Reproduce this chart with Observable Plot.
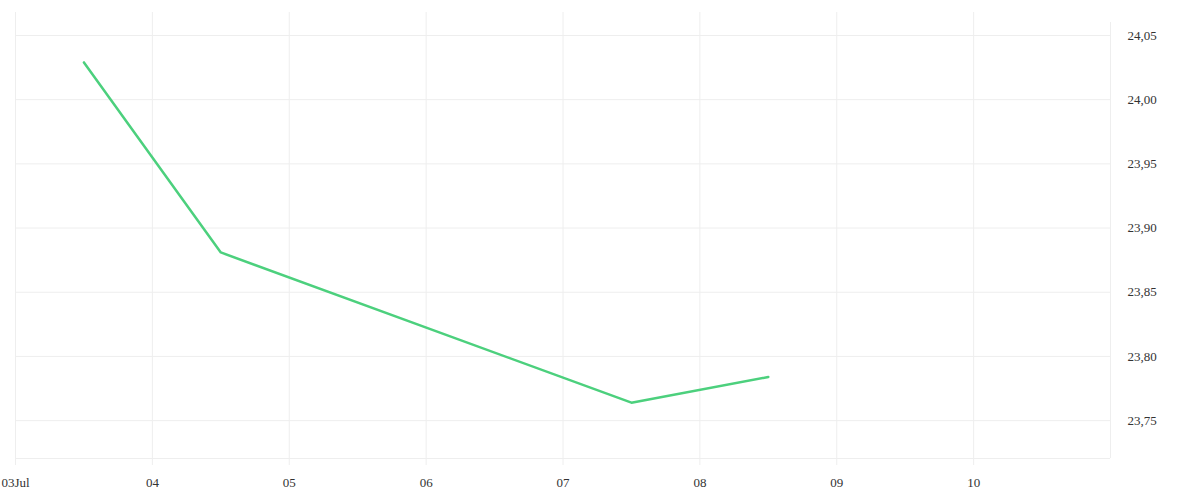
<!DOCTYPE html>
<html>
<head>
<meta charset="utf-8">
<script src="https://cdn.jsdelivr.net/npm/d3@7"></script>
<script src="https://cdn.jsdelivr.net/npm/@observablehq/plot@0.6"></script>
<style>
  html, body { margin: 0; padding: 0; background: #fff; }
  svg { display: block; }
</style>
</head>
<body>
<div id="chart"></div>
<script>
const dates = ["2024-07-03T12:00Z", "2024-07-04T12:00Z", "2024-07-07T12:00Z", "2024-07-08T12:00Z"];
const values = [24.029, 23.881, 23.764, 23.784];
const yTicks = [23.75, 23.80, 23.85, 23.90, 23.95, 24.00, 24.05];
const xTickDates = ["2024-07-03", "2024-07-04", "2024-07-05", "2024-07-06", "2024-07-07", "2024-07-08", "2024-07-09", "2024-07-10"];
const xTickLabels = ["03Jul", "04", "05", "06", "07", "08", "09", "10"];

const data = dates.map((d, i) => ({date: new Date(d), value: values[i]}));
const xTicks = xTickDates.map(d => new Date(d + "T00:00Z"));
const labelOf = new Map(xTicks.map((d, i) => [+d, xTickLabels[i]]));
const xDomain = [new Date("2024-07-03T00:00Z"), new Date("2024-07-11T00:00Z")];
const yDomain = [23.7205, 24.0679];
const fmt = v => v.toFixed(2).replace(".", ",");

const chart = Plot.plot({
  width: 1200,
  height: 500,
  marginLeft: 15,
  marginRight: 90,
  marginTop: 12,
  marginBottom: 42,
  style: {fontFamily: "'Liberation Serif', serif", fontSize: "13px", color: "#333", background: "#fff"},
  x: {type: "utc", domain: xDomain, label: null},
  y: {domain: yDomain, label: null},
  marks: [
    Plot.ruleY(yTicks, {stroke: "#eeeeee", strokeWidth: 1}),
    Plot.ruleY([yDomain[0]], {stroke: "#eeeeee", strokeWidth: 1}),
    Plot.ruleX(xTicks, {stroke: "#eeeeee", strokeWidth: 1}),
    Plot.ruleX([xDomain[1]], {y1: yDomain[0], y2: yDomain[1], stroke: "#eeeeee", strokeWidth: 1, insetBottom: -10}),
    Plot.axisX({ticks: xTicks, tickFormat: d => labelOf.get(+d), tickSize: 7, stroke: "#eeeeee", tickPadding: 12, fill: "#333", fontSize: 13}),
    Plot.axisY({anchor: "right", ticks: yTicks, tickFormat: fmt, tickSize: 0, tickPadding: 17, textAnchor: "start", fill: "#333", fontSize: 13}),
    Plot.line(data, {x: "date", y: "value", stroke: "#4cd07d", strokeWidth: 2.5})
  ]
});
document.getElementById("chart").appendChild(chart);
</script>
</body>
</html>
